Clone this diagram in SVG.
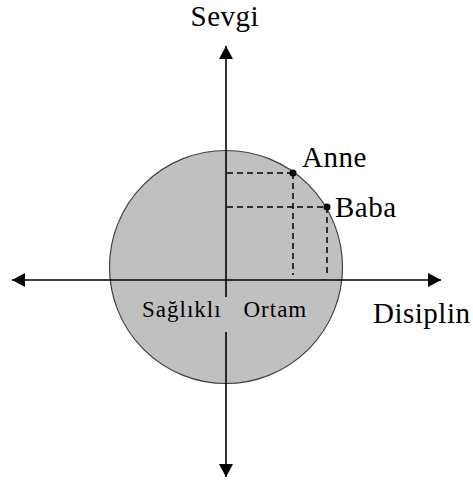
<svg xmlns="http://www.w3.org/2000/svg" width="473" height="483" viewBox="0 0 473 483">
<style>
.axis{stroke:#000;stroke-width:1.6;fill:none}
.dash{stroke:#000;stroke-width:1.5;stroke-dasharray:6 4;fill:none}
.lbl{font-family:"Liberation Serif","Times New Roman",serif;fill:#000}
.big{font-size:29px;letter-spacing:0.5px}
.small{font-size:23px;letter-spacing:1px}
</style>
<defs>
<marker id="arr" markerUnits="userSpaceOnUse" markerWidth="14" markerHeight="14" refX="13" refY="7" orient="auto">
<path d="M0,0 L13,7 L0,14 Z" fill="#000"/>
</marker>
</defs>
<rect width="473" height="483" fill="#fff"/>
<g id="circle">
<circle cx="226" cy="267" r="116.5" fill="#c0c0c0" stroke="#404040" stroke-width="1.2"/>
</g>
<g id="connectors">
<line class="axis" x1="226" y1="297" x2="226" y2="46" marker-end="url(#arr)"/>
<line class="axis" x1="226" y1="332" x2="226" y2="477" marker-end="url(#arr)"/>
<line class="axis" x1="226" y1="280" x2="441" y2="280" marker-end="url(#arr)"/>
<line class="axis" x1="226" y1="280" x2="12" y2="280" marker-end="url(#arr)"/>
<path class="dash" d="M227,173 H293 M227,207 H327 M293,173 V275 M327,207 V275"/>
</g>
<g id="anne">
<circle cx="293" cy="173" r="3.5" fill="#000"/>
<text class="lbl big" x="302" y="167">Anne</text>
</g>
<g id="baba">
<circle cx="327" cy="207" r="3.5" fill="#000"/>
<text class="lbl big" x="335" y="217">Baba</text>
</g>
<g id="sevgi">
<text class="lbl big" x="190.5" y="26">Sevgi</text>
</g>
<g id="disiplin">
<text class="lbl big" x="373" y="323">Disiplin</text>
</g>
<g id="saglikli-ortam">
<text class="lbl small" x="142" y="317">Sağlıklı</text>
<text class="lbl small" x="243.5" y="317">Ortam</text>
</g>
</svg>
